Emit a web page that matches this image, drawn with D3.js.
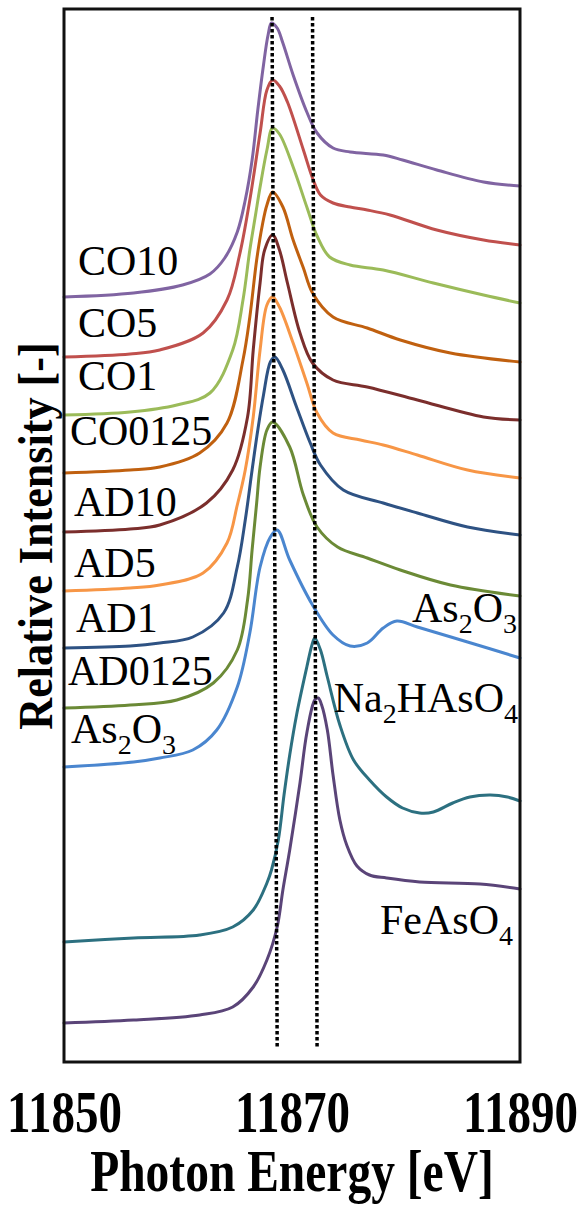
<!DOCTYPE html>
<html>
<head>
<meta charset="utf-8">
<script src="https://cdn.jsdelivr.net/npm/d3@7"></script>
<style>
  body { margin: 0; background: #fff; }
  svg { display: block; }
</style>
</head>
<body>
<div id="chart-container"></div>
<script>
const width = 588;
const height = 1205;
const plot = { left: 64, right: 520, top: 9, bottom: 1062 };

// x range of the figure [eV] and the vertical extent of the stacked spectra
const energyDomain = [11850, 11890];
const intensityDomain = [0, 10.53];
const xTicks = [11850, 11870, 11890];

// spectra: [photon energy (eV), stacked relative intensity]
const co10 = [[11850, 7.65], [11856.1, 7.69], [11860.4, 7.77], [11862.8, 7.88], [11864.1, 8.04], [11865.2, 8.30],
  [11865.9, 8.62], [11866.5, 9.02], [11867.0, 9.52], [11867.5, 9.97], [11867.9, 10.27], [11868.2, 10.39],
  [11868.7, 10.34], [11869.2, 10.19], [11870.1, 9.87], [11871.3, 9.50], [11872.2, 9.29], [11873.6, 9.14],
  [11875.1, 9.10], [11878.0, 9.07], [11879.7, 9.02], [11882.7, 8.92], [11886.8, 8.80], [11890, 8.76]];
const co5 = [[11850, 7.05], [11855.8, 7.08], [11858.4, 7.12], [11862.2, 7.29], [11864.3, 7.62], [11865.4, 8.07],
  [11866.3, 8.62], [11867.2, 9.29], [11867.8, 9.72], [11868.3, 9.82], [11868.9, 9.76], [11869.6, 9.60],
  [11871.0, 9.12], [11871.8, 8.84], [11872.5, 8.67], [11873.6, 8.59], [11875.1, 8.55], [11876.6, 8.52],
  [11878.6, 8.47], [11882.7, 8.32], [11886.8, 8.22], [11890, 8.17]];
const co1 = [[11850, 6.47], [11855.8, 6.50], [11859.9, 6.57], [11862.8, 6.69], [11864.8, 7.12], [11865.7, 7.62],
  [11866.3, 8.12], [11866.8, 8.47], [11867.2, 8.75], [11867.8, 9.12], [11868.3, 9.34], [11868.9, 9.28],
  [11870.1, 8.95], [11871.3, 8.55], [11872.2, 8.26], [11873.3, 8.05], [11875.1, 7.97], [11878.0, 7.92],
  [11882.4, 7.79], [11886.8, 7.67], [11890, 7.59]];
const co0125 = [[11850, 5.89], [11855.8, 5.92], [11858.4, 5.95], [11861.9, 6.09], [11864.3, 6.39], [11865.7, 7.02],
  [11866.3, 7.45], [11866.9, 8.02], [11867.4, 8.37], [11867.8, 8.57], [11868.3, 8.70], [11869.2, 8.55],
  [11870.1, 8.22], [11871.0, 7.94], [11871.8, 7.69], [11873.6, 7.45], [11876.6, 7.34], [11879.5, 7.22],
  [11883.9, 7.09], [11890, 7.00]];
const ad10 = [[11850, 5.30], [11855.8, 5.33], [11858.4, 5.37], [11862.5, 5.59], [11864.8, 5.92], [11866.1, 6.45],
  [11866.6, 7.12], [11867.2, 7.79], [11867.6, 8.12], [11868.3, 8.27], [11868.9, 8.12], [11869.6, 7.79],
  [11870.7, 7.29], [11871.8, 6.99], [11873.6, 6.82], [11876.6, 6.75], [11881.0, 6.62], [11886.8, 6.45],
  [11890, 6.42]];
const ad5 = [[11850, 4.71], [11855.8, 4.74], [11858.4, 4.77], [11862.2, 4.89], [11864.3, 5.19], [11865.2, 5.57],
  [11865.9, 5.92], [11866.6, 6.45], [11867.2, 7.12], [11867.8, 7.57], [11868.3, 7.65], [11868.9, 7.55],
  [11870.1, 7.19], [11871.3, 6.79], [11872.2, 6.49], [11873.6, 6.29], [11876.0, 6.22], [11878.0, 6.17],
  [11881.0, 6.07], [11885.4, 5.92], [11890, 5.84]];
const ad1 = [[11850, 4.14], [11855.8, 4.16], [11858.4, 4.19], [11861.3, 4.25], [11864.0, 4.49], [11865.2, 4.95],
  [11865.9, 5.42], [11866.5, 5.92], [11867.0, 6.32], [11867.5, 6.67], [11868.1, 7.00], [11868.5, 7.05],
  [11869.2, 6.92], [11870.4, 6.55], [11871.6, 6.19], [11872.5, 5.97], [11874.5, 5.72], [11878.0, 5.59],
  [11881.0, 5.49], [11885.4, 5.35], [11890, 5.27]];
const ad0125 = [[11850, 3.54], [11855.8, 3.57], [11859.9, 3.62], [11863.1, 3.79], [11865.2, 4.12], [11866.1, 4.62],
  [11866.5, 5.12], [11866.9, 5.59], [11867.2, 5.95], [11867.8, 6.32], [11868.3, 6.40], [11869.8, 6.15],
  [11871.0, 5.67], [11872.2, 5.35], [11874.0, 5.15], [11876.6, 5.04], [11879.5, 4.92], [11883.9, 4.77],
  [11890, 4.66]];
const as2o3 = [[11850, 2.95], [11856.1, 3.00], [11858.4, 3.04], [11861.3, 3.12], [11863.4, 3.32], [11865.2, 3.75],
  [11866.3, 4.29], [11867.2, 4.95], [11868.1, 5.25], [11868.7, 5.32], [11869.8, 5.02], [11871.8, 4.57],
  [11873.6, 4.27], [11875.1, 4.16], [11876.6, 4.19], [11878.0, 4.34], [11879.2, 4.41], [11881.0, 4.35],
  [11885.4, 4.20], [11890, 4.04]];
const na2hase4 = [[11850, 1.20], [11856.1, 1.24], [11861.9, 1.27], [11864.8, 1.35], [11866.6, 1.52], [11867.8, 1.79],
  [11868.2, 1.92], [11868.8, 2.22], [11869.3, 2.67], [11869.8, 3.07], [11870.4, 3.47], [11871.3, 3.95],
  [11871.75, 4.17], [11872.0, 4.24], [11872.5, 4.12], [11873.1, 3.85], [11874.2, 3.37], [11875.4, 3.02],
  [11876.8, 2.82], [11878.3, 2.65], [11879.7, 2.54], [11881.2, 2.49], [11882.4, 2.50], [11884.1, 2.59],
  [11885.6, 2.65], [11887.4, 2.67], [11888.9, 2.65], [11890, 2.61]];
const feaso4 = [[11850, 0.39], [11856.1, 0.42], [11861.9, 0.47], [11864.8, 0.55], [11866.6, 0.75], [11867.8, 1.02],
  [11868.7, 1.35], [11869.2, 1.72], [11869.8, 2.12], [11870.7, 2.79], [11871.3, 3.29], [11872.0, 3.62],
  [11872.3, 3.64], [11872.6, 3.57], [11873.1, 3.32], [11873.6, 2.87], [11874.2, 2.42], [11874.8, 2.17],
  [11875.7, 1.96], [11876.8, 1.87], [11878.3, 1.84], [11881.2, 1.80], [11886.5, 1.78], [11890, 1.73]];

const seriesData = [co10, co5, co1, co0125, ad10, ad5, ad1, ad0125, as2o3, na2hase4, feaso4];
const seriesColors = ["#8064A2", "#C0504D", "#9BBB59", "#C0600F", "#7B2E2C", "#F79646",
  "#2E5283", "#6B8A36", "#4A86CF", "#2C7080", "#5A4478"];

// dotted guide lines (energy at top and bottom of each line) and their vertical span
const guideLines = [[11868.25, 11868.7], [11871.8, 11872.2]];
const guideSpan = [10.45, 0.14];

// sample labels, subscripts flagged
const leftLabels = [
  { parts: [["CO10"]], x: 78, y: 275 },
  { parts: [["CO5"]], x: 78, y: 337 },
  { parts: [["CO1"]], x: 78, y: 390 },
  { parts: [["CO0125"]], x: 70, y: 445 },
  { parts: [["AD10"]], x: 74, y: 516 },
  { parts: [["AD5"]], x: 74, y: 577 },
  { parts: [["AD1"]], x: 76, y: 632 },
  { parts: [["AD0125"]], x: 68, y: 685 },
  { parts: [["As"], ["2", true], ["O"], ["3", true]], x: 71, y: 743 }
];
const rightLabels = [
  { parts: [["As"], ["2", true], ["O"], ["3", true]], x: 517, y: 622 },
  { parts: [["Na"], ["2", true], ["HAsO"], ["4", true]], x: 518, y: 712 },
  { parts: [["FeAsO"], ["4", true]], x: 513, y: 934 }
];

const svg = d3.select("#chart-container").append("svg")
  .attr("width", width)
  .attr("height", height)
  .attr("font-family", "'Liberation Serif', 'Times New Roman', serif");

const xScale = d3.scaleLinear().domain(energyDomain).range([plot.left, plot.right]);
const yScale = d3.scaleLinear().domain(intensityDomain).range([plot.bottom, plot.top]);

const line = d3.line()
  .x(d => xScale(d[0]))
  .y(d => yScale(d[1]))
  .curve(d3.curveCatmullRom.alpha(0.5));

// spectra
svg.append("g")
  .selectAll("path")
  .data(seriesData)
  .enter()
  .append("path")
  .attr("d", d => line(d))
  .attr("fill", "none")
  .attr("stroke", (d, i) => seriesColors[i])
  .attr("stroke-width", 3)
  .attr("stroke-linejoin", "round")
  .attr("stroke-linecap", "round");

// dotted guides
svg.append("g")
  .selectAll("line")
  .data(guideLines)
  .enter()
  .append("line")
  .attr("x1", d => xScale(d[0]))
  .attr("x2", d => xScale(d[1]))
  .attr("y1", yScale(guideSpan[0]))
  .attr("y2", yScale(guideSpan[1]))
  .attr("stroke", "#000")
  .attr("stroke-width", 3.5)
  .attr("stroke-dasharray", "3.5,2.5");

// frame
svg.append("rect")
  .attr("x", xScale(energyDomain[0]))
  .attr("y", yScale(intensityDomain[1]))
  .attr("width", xScale(energyDomain[1]) - xScale(energyDomain[0]))
  .attr("height", yScale(intensityDomain[0]) - yScale(intensityDomain[1]))
  .attr("fill", "none")
  .attr("stroke", "#111")
  .attr("stroke-width", 3);

// x axis: labels only
const xaxis = d3.axisBottom(xScale).tickValues(xTicks).tickSize(0).tickFormat(d3.format("d"));
const gx = svg.append("g")
  .attr("transform", "translate(0," + plot.bottom + ")")
  .call(xaxis)
  .attr("font-family", null);
gx.select(".domain").remove();
gx.selectAll("text")
  .attr("y", 0)
  .attr("dy", 0)
  .attr("transform", "translate(0,70) scale(1,1.28)")
  .attr("fill", "#000")
  .style("font-size", "47px")
  .style("font-weight", "bold");

svg.append("text")
  .attr("transform", "translate(292,1191) scale(1,1.26)")
  .attr("text-anchor", "middle")
  .style("font-size", "47.5px")
  .style("font-weight", "bold")
  .text("Photon Energy [eV]");

svg.append("text")
  .attr("transform", "translate(52,536) rotate(-90) scale(0.92,1)")
  .attr("text-anchor", "middle")
  .style("font-size", "48px")
  .style("font-weight", "bold")
  .text("Relative Intensity [-]");

function addLabel(lbl, anchor) {
  const t = svg.append("text")
    .attr("x", lbl.x)
    .attr("y", lbl.y)
    .attr("text-anchor", anchor)
    .style("font-size", "42px");
  let shifted = false;
  lbl.parts.forEach(p => {
    const sub = !!p[1];
    const ts = t.append("tspan").text(p[0]);
    if (sub && !shifted) { ts.attr("dy", 11).style("font-size", "28px"); shifted = true; }
    else if (!sub && shifted) { ts.attr("dy", -11); shifted = false; }
    else if (sub) ts.style("font-size", "28px");
  });
}
leftLabels.forEach(l => addLabel(l, "start"));
rightLabels.forEach(l => addLabel(l, "end"));
</script>
</body>
</html>
